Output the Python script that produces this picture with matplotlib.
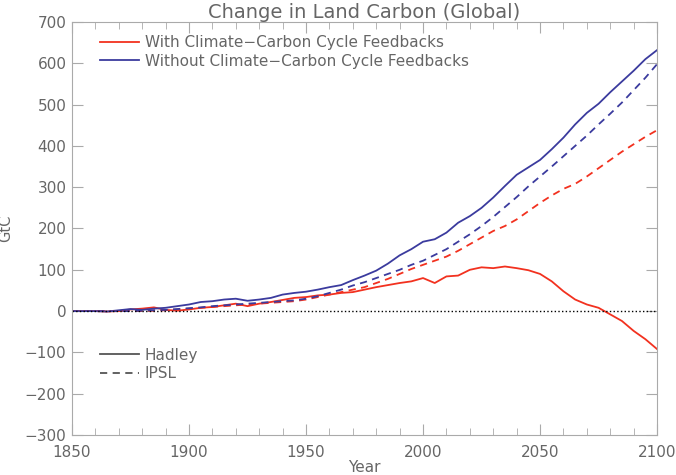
import numpy as np
import matplotlib
matplotlib.use('Agg')
import matplotlib.pyplot as plt
from matplotlib.lines import Line2D
from matplotlib.ticker import MultipleLocator

# years, every 5 years
years = np.arange(1850, 2101, 5)

# Hadley, with climate-carbon cycle feedbacks (red solid)
hadley_fb = [0, 0, 0, -1, 0, 4, 6, 9, 3, 1,
             4, 8, 10, 14, 18, 12, 18, 22, 27, 32,
             34, 38, 40, 44, 46, 52, 58, 63, 68, 72,
             80, 68, 84, 86, 100, 106, 104, 108, 104, 99,
             90, 72, 48, 28, 16, 8, -8, -24, -48, -68,
             -92]

# Hadley, without feedbacks (blue solid)
hadley_nofb = [0, 0, 0, -1, 2, 5, 3, 6, 8, 12,
               16, 22, 24, 28, 30, 25, 28, 32, 40, 44,
               47, 52, 58, 63, 75, 86, 98, 115, 135, 150,
               168, 174, 190, 214, 230, 250, 275, 303, 330, 348,
               366, 392, 420, 452, 480, 502, 530, 556, 582, 610,
               632]

# IPSL, with feedbacks (red dashed)
ipsl_fb = [0, 0, 0, 0, 0, 0, 0, 1, 2, 4,
           6, 8, 10, 12, 14, 16, 18, 20, 22, 24,
           28, 34, 40, 46, 52, 58, 68, 78, 90, 102,
           112, 122, 132, 146, 162, 178, 194, 206, 222, 242,
           262, 280, 296, 308, 326, 346, 366, 386, 404, 422,
           438]

# IPSL, without feedbacks (blue dashed)
ipsl_nofb = [0, 0, 0, 0, 0, 0, 1, 2, 3, 5,
             7, 9, 12, 14, 16, 18, 20, 22, 24, 26,
             30, 36, 44, 52, 62, 70, 80, 90, 100, 112,
             122, 136, 150, 168, 186, 206, 228, 252, 276, 302,
             326, 350, 375, 400, 425, 452, 478, 505, 535, 565,
             598]

red = '#f2311f'
blue = '#3b3b9e'
txt = '#666666'
grey = '#aaaaaa'

plt.rcParams['font.family'] = ['DejaVu Sans']

fig = plt.figure(figsize=(6.76, 4.75), dpi=100)
ax = fig.add_axes([0.1065, 0.0842, 0.8655, 0.8695])

ax.plot(years, hadley_fb, color=red, lw=1.3)
ax.plot(years, hadley_nofb, color=blue, lw=1.3)
ax.plot(years, ipsl_fb, color=red, lw=1.3, ls=(0, (4, 3)))
ax.plot(years, ipsl_nofb, color=blue, lw=1.3, ls=(0, (4, 3)))
ax.axhline(0, color='black', lw=1, ls=':')

ax.set_xlim(1850, 2100)
ax.set_ylim(-300, 700)
ax.xaxis.set_major_locator(MultipleLocator(50))
ax.xaxis.set_minor_locator(MultipleLocator(10))
ax.yaxis.set_major_locator(MultipleLocator(100))
ax.tick_params(which='both', direction='in', top=True, right=True,
               colors=grey, labelcolor=txt, labelsize=11)
ax.tick_params(which='major', length=8)
ax.tick_params(which='minor', length=5)
ax.tick_params(axis='x', pad=7)
ax.tick_params(axis='y', pad=4)
for s in ax.spines.values():
    s.set_color(grey)

ax.set_title('Change in Land Carbon (Global)', color=txt, fontsize=14, pad=3)
ax.set_xlabel('Year', color=txt, fontsize=11, labelpad=0)
ax.set_ylabel('GtC', color=txt, fontsize=10.5, labelpad=8)

# legends
h1 = [Line2D([], [], color=red, lw=1.3), Line2D([], [], color=blue, lw=1.3)]
leg1 = ax.legend(h1, ['With Climate\u2212Carbon Cycle Feedbacks',
                      'Without Climate\u2212Carbon Cycle Feedbacks'],
                 loc='upper left', bbox_to_anchor=(0.025, 1.002), frameon=False,
                 fontsize=11, labelcolor=txt, handlelength=2.5,
                 handletextpad=0.4, labelspacing=0.25)
ax.add_artist(leg1)
h2 = [Line2D([], [], color='#555555', lw=1.3),
      Line2D([], [], color='#555555', lw=1.3, ls=(0, (4, 3)))]
ax.legend(h2, ['Hadley', 'IPSL'], loc='upper left',
          bbox_to_anchor=(0.025, 0.245), frameon=False, fontsize=11,
          labelcolor=txt, handlelength=2.5, handletextpad=0.4,
          labelspacing=0.25)

fig.savefig('out.png', dpi=100)
